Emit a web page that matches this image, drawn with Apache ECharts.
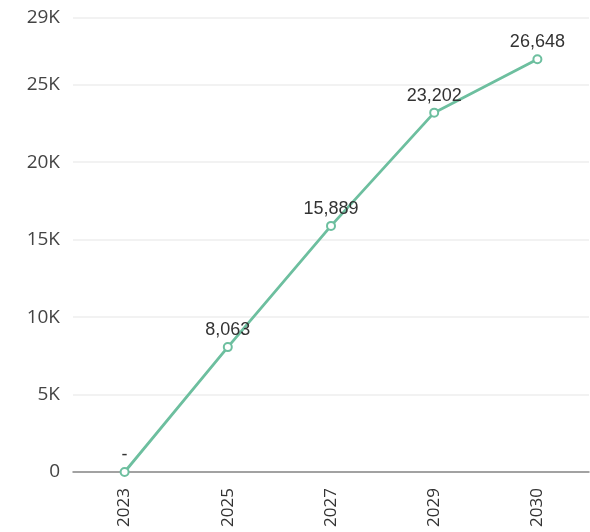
<!DOCTYPE html>
<html><head><meta charset="utf-8">
<script src="https://cdn.jsdelivr.net/npm/echarts@6/dist/echarts.min.js"></script>
<style>html,body{margin:0;padding:0;background:#fff}#c{width:590px;height:532px}</style>
</head><body><div id="c"></div>
<script>
const categories = ['2023', '2025', '2027', '2029', '2030'];
const values = [0, 8063, 15889, 23202, 26648];

const chart = echarts.init(document.getElementById('c'));
chart.setOption({
  animation: false,
  grid: { left: 73, right: 1, top: 18, bottom: 60, containLabel: false },
  xAxis: {
    type: 'category',
    data: categories,
    axisLine: { lineStyle: { color: '#888', width: 1.5 } },
    axisTick: { lineStyle: { color: '#888', width: 1.5 }, length: 6 },
    axisLabel: { rotate: 90, fontSize: 17, color: '#333', fontFamily: 'Open Sans', margin: 16 }
  },
  yAxis: {
    type: 'value',
    min: 0,
    max: function (v) { return v.max * 1.1; },
    interval: 5000,
    axisLine: { show: false },
    axisTick: { show: false },
    splitLine: { lineStyle: { color: '#eeeeee', width: 1.5 } },
    axisLabel: {
      fontSize: 19, color: '#444', fontFamily: 'Open Sans', margin: 13,
      formatter: function (v) { return v === 0 ? '0' : Math.round(v / 1000) + 'K'; }
    }
  },
  series: [{
    type: 'line',
    data: values,
    symbol: 'emptyCircle',
    symbolSize: 8,
    lineStyle: { color: '#6dbf9f', width: 2.8 },
    itemStyle: { color: '#6dbf9f', borderWidth: 2 },
    label: {
      show: true, position: 'top', fontSize: 18, color: '#333',
      fontFamily: 'Liberation Sans', distance: 3,
      formatter: function (p) { return p.value === 0 ? '-' : p.value.toLocaleString('en-US'); }
    }
  }]
});
</script></body></html>
